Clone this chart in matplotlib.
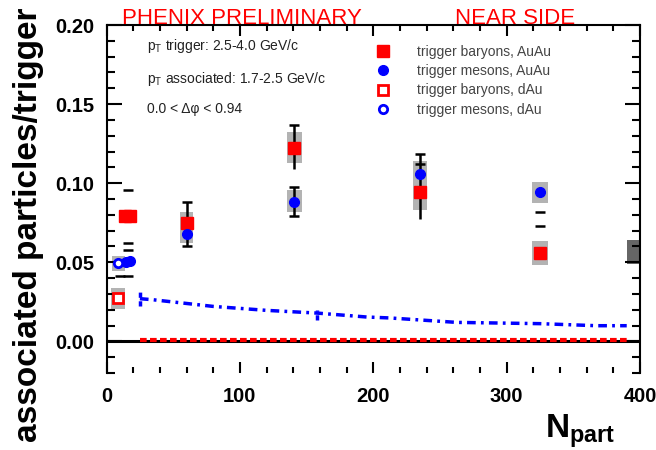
import matplotlib.pyplot as plt
from matplotlib.ticker import MultipleLocator

plt.rcParams['font.family'] = ['Liberation Sans', 'DejaVu Sans']
plt.rcParams['mathtext.fontset'] = 'custom'
plt.rcParams['mathtext.rm'] = 'Liberation Sans'
plt.rcParams['mathtext.bf'] = 'Liberation Sans:bold'

# Au+Au points
bar_x = [14, 17.5, 60.1, 140.8, 235.3, 325]
bar_y = [0.079, 0.079, 0.0748, 0.1222, 0.0944, 0.0558]
mes_x = [14.5, 17.5, 60.1, 140.8, 235.3, 325]
mes_y = [0.0500, 0.0510, 0.0678, 0.0884, 0.1059, 0.0946]

# d+Au points
dau_bar_x = [8.9]
dau_bar_y = [0.0274]
dau_mes_x = [8.9]
dau_mes_y = [0.0493]

# systematic boxes
sys_x = [8.9, 8.9, 60.1, 140.8, 140.8, 235.3, 325, 325]
sys_w = [10, 10.5, 10, 11, 11, 10.5, 12, 12]
sys_lo = [0.0442, 0.0205, 0.0625, 0.1128, 0.0821, 0.0828, 0.0875, 0.0480]
sys_hi = [0.0537, 0.0337, 0.0815, 0.1321, 0.0958, 0.1143, 0.1010, 0.0636]

# normalisation box
norm_x = [395]
norm_lo = [0.0491]
norm_hi = [0.0638]

# statistical errors
err_x = [60.1, 140.8, 140.8, 235.3]
err_lo = [0.0600, 0.1091, 0.0794, 0.0775]
err_hi = [0.0884, 0.1365, 0.0975, 0.1186]
cap_x = [60.1, 60.1, 140.8, 140.8, 140.8, 235.3, 235.3, 16, 16, 16, 10, 16, 325, 325]
cap_y = [0.0600, 0.0884, 0.1365, 0.0794, 0.0975, 0.1186, 0.1123,
         0.0958, 0.0622, 0.0579, 0.0411, 0.0415, 0.0820, 0.0730]

# reference curves
ref_x = [25, 35, 80, 120, 157.6, 195, 212.5, 262.5, 325, 367.5, 390]
ref_mes = [0.0270, 0.0263, 0.0221, 0.0196, 0.0179, 0.0154, 0.0148, 0.0120, 0.0112, 0.0099, 0.0099]
ref_bar_x = [25, 390]
ref_bar_y = [0.0008, 0.0008]
ref_err_x = [25, 157.6]
ref_err_lo = [0.0221, 0.0137]
ref_err_hi = [0.0316, 0.0200]

fig = plt.figure(figsize=(6.56, 4.5), dpi=100)
ax = fig.add_axes([0.1624, 0.1711, 0.8133, 0.7733])

ax.axhline(0, color='black', lw=2.2, zorder=2)
ax.plot(ref_bar_x, ref_bar_y, color='red', lw=3, ls=(0, (1.6, 0.8)), zorder=3)
ax.plot(ref_x, ref_mes, color='blue', lw=2.5, ls=(0, (2.5, 1.5, 0.8, 1.5)), zorder=3)
ax.vlines(ref_err_x, ref_err_lo, ref_err_hi, color='blue', lw=2.5, ls=(0, (1.5, 1)), zorder=3)

heights = [h - l for h, l in zip(sys_hi, sys_lo)]
ax.bar(sys_x, heights, width=sys_w, bottom=sys_lo, color='#b3b3b3', zorder=1)
ax.bar(norm_x, [norm_hi[0] - norm_lo[0]], width=10, bottom=norm_lo, color='#666666', zorder=1)

ax.vlines(err_x, err_lo, err_hi, color='black', lw=1.8, zorder=4)
ax.plot(cap_x, cap_y, ls='none', marker='_', ms=6.5, mew=1.8, color='black', zorder=4)

h1, = ax.plot(bar_x, bar_y, ls='none', marker='s', ms=8, color='red', zorder=5,
              label='trigger baryons, AuAu')
h2, = ax.plot(mes_x, mes_y, ls='none', marker='o', ms=7, color='blue', zorder=5,
              label='trigger mesons, AuAu')
h3, = ax.plot(dau_bar_x, dau_bar_y, ls='none', marker='s', ms=7, mfc='white', mec='red',
              mew=2, zorder=5, label='trigger baryons, dAu')
h4, = ax.plot(dau_mes_x, dau_mes_y, ls='none', marker='o', ms=6, mfc='white', mec='blue',
              mew=2, zorder=5, label='trigger mesons, dAu')

leg = ax.legend(handles=[h1, h2, h3, h4], loc='upper left', bbox_to_anchor=(0.5048, 0.943),
                frameon=False, fontsize=10, borderaxespad=0, borderpad=0,
                handlelength=1, handletextpad=1.94, labelspacing=0.38,
                labelcolor='#444444')

ax.set_xlim(0, 400)
ax.set_ylim(-0.02, 0.20)
ax.set_xticks([0, 100, 200, 300, 400])
ax.xaxis.set_minor_locator(MultipleLocator(20))
ax.set_yticks([0, 0.05, 0.10, 0.15, 0.20])
ax.set_yticklabels(['0.00', '0.05', '0.10', '0.15', '0.20'])
ax.yaxis.set_minor_locator(MultipleLocator(0.01))
ax.tick_params(which='both', direction='in', top=True, right=True, width=1.5,
               labelsize=14.5)
ax.tick_params(axis='y', which='major', length=11, pad=9)
ax.tick_params(axis='y', which='minor', length=5.5)
ax.tick_params(axis='x', which='major', length=8, pad=10)
ax.tick_params(axis='x', which='minor', length=4)
for lbl in ax.get_xticklabels() + ax.get_yticklabels():
    lbl.set_fontweight('bold')
for s in ['left', 'right', 'top']:
    ax.spines[s].set_linewidth(1.5)
ax.spines['bottom'].set_visible(False)

ax.set_ylabel('associated particles/trigger', fontsize=24, fontweight='bold')
ax.yaxis.set_label_coords(-0.118, 0.425)
ax.text(0.822, -0.184, r'$\mathbf{N}_{\mathbf{part}}$', transform=ax.transAxes,
        fontsize=24, va='baseline', ha='left')

ax.text(0.0754, 0.9397, r'p$_\mathregular{T}$ trigger: 2.5-4.0 GeV/c', transform=ax.transAxes,
        fontsize=10, va='center', color='#222222')
ax.text(0.0754, 0.844, r'p$_\mathregular{T}$ associated: 1.7-2.5 GeV/c', transform=ax.transAxes,
        fontsize=10, va='center', color='#222222')
ax.text(0.0754, 0.758, '0.0 < Δφ < 0.94', transform=ax.transAxes,
        fontsize=10, va='center', color='#222222')

fig.text(121.7 / 656, 1 - 18 / 450, 'PHENIX PRELIMINARY', color='red', fontsize=16,
         va='center', ha='left')
fig.text(455 / 656, 1 - 18 / 450, 'NEAR SIDE', color='red', fontsize=16,
         va='center', ha='left')

fig.savefig('out.png', dpi=100)
